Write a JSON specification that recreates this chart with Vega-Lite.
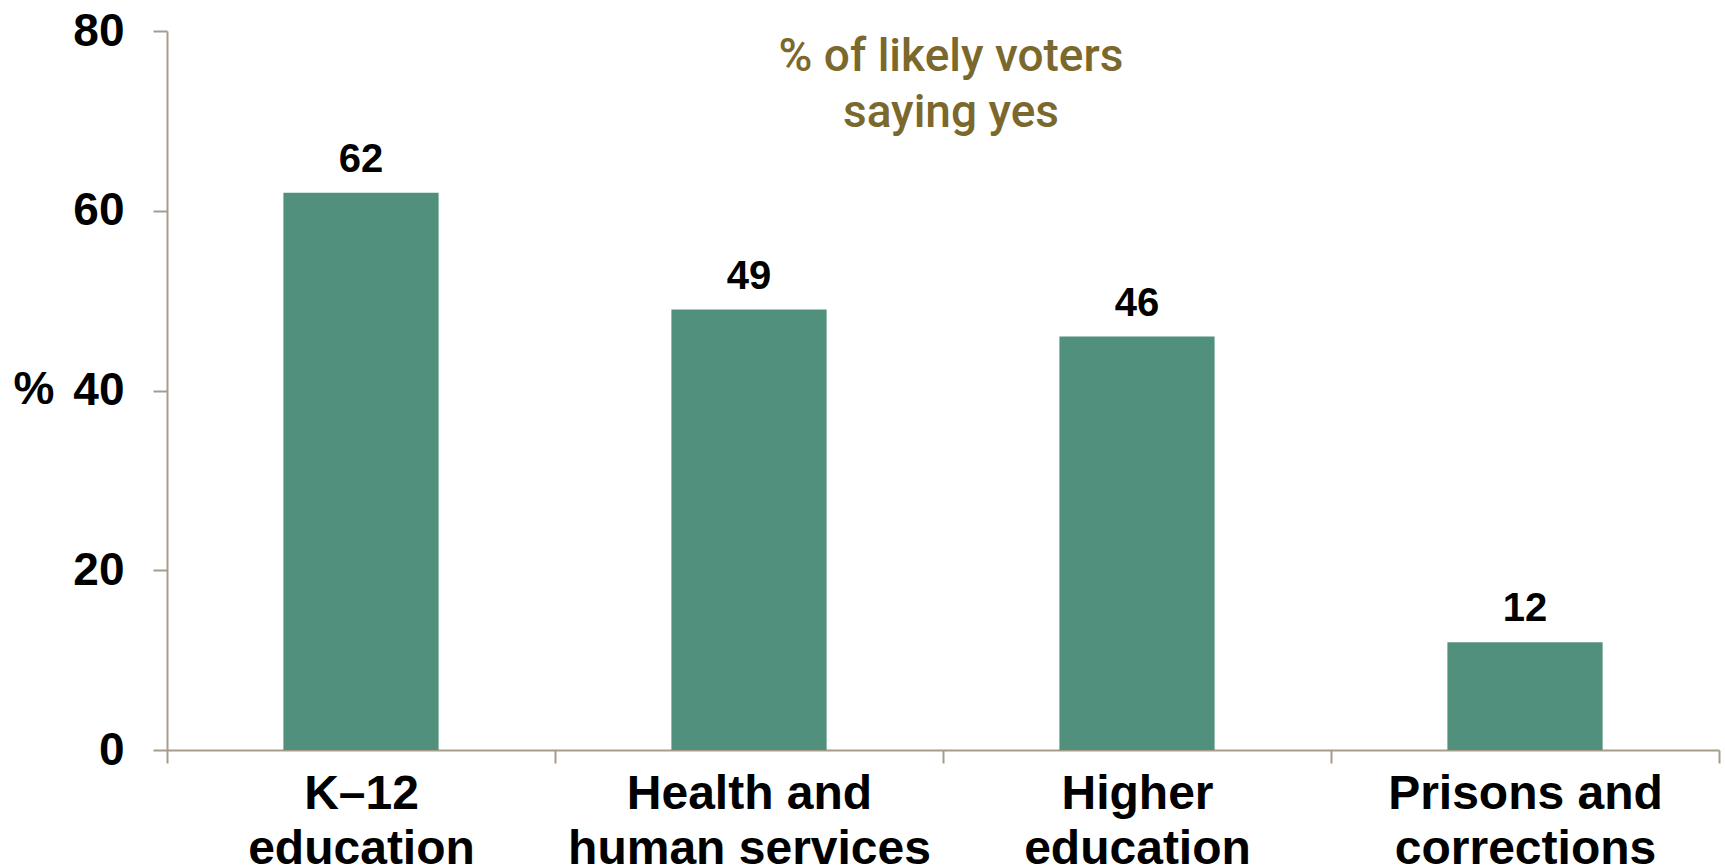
{
  "$schema": "https://vega.github.io/schema/vega-lite/v6.json",
  "width": 1552,
  "height": 719,
  "autosize": {"type": "none"},
  "padding": {"left": 167, "top": 31, "right": 6, "bottom": 118},
  "background": "white",
  "title": {
    "text": ["% of likely voters", "saying yes"],
    "orient": "top",
    "anchor": "middle",
    "frame": "group",
    "font": "Roboto",
    "fontWeight": 500,
    "fontSize": 46,
    "lineHeight": 56,
    "color": "#7a682c",
    "baseline": "top",
    "offset": 0,
    "dx": 8,
    "dy": 129
  },
  "data": {
    "values": [
      {"category": "K–12\neducation", "pct": 62},
      {"category": "Health and\nhuman services", "pct": 49},
      {"category": "Higher\neducation", "pct": 46},
      {"category": "Prisons and\ncorrections", "pct": 12}
    ]
  },
  "config": {
    "view": {"stroke": null},
    "font": "Liberation Sans"
  },
  "encoding": {
    "x": {
      "field": "category",
      "type": "nominal",
      "sort": null,
      "scale": {"paddingInner": 0, "paddingOuter": 0},
      "axis": {
        "title": null,
        "labelAngle": 0,
        "labelExpr": "split(datum.label, '\\n')",
        "labelFont": "Liberation Sans",
        "labelFontWeight": "bold",
        "labelFontSize": 48,
        "labelLineHeight": 55,
        "labelColor": "black",
        "labelPadding": 7,
        "labelBaseline": "top",
        "labelLimit": 0,
        "tickBand": "extent",
        "tickSize": 13,
        "tickColor": "#a59d8a",
        "tickWidth": 2,
        "domainColor": "#a59d8a",
        "domainWidth": 2,
        "grid": false
      }
    },
    "y": {
      "field": "pct",
      "type": "quantitative",
      "scale": {"domain": [0, 80]},
      "axis": {
        "title": "%",
        "titleAngle": 0,
        "titleFont": "Liberation Sans",
        "titleFontWeight": "bold",
        "titleFontSize": 46,
        "titleColor": "black",
        "titleAlign": "left",
        "titleBaseline": "middle",
        "titleX": -154,
        "titleY": 358,
        "values": [0, 20, 40, 60, 80],
        "labelFont": "Liberation Sans",
        "labelFontWeight": "bold",
        "labelFontSize": 46,
        "labelColor": "black",
        "labelPadding": 29,
        "tickSize": 14,
        "tickColor": "#a59d8a",
        "tickWidth": 2,
        "domainColor": "#a59d8a",
        "domainWidth": 2,
        "grid": false
      }
    }
  },
  "layer": [
    {"mark": {"type": "bar", "color": "#52907e", "width": {"band": 0.4}}},
    {
      "mark": {
        "type": "text",
        "font": "Liberation Sans",
        "fontWeight": "bold",
        "fontSize": 40,
        "color": "black",
        "baseline": "alphabetic",
        "dy": -21
      },
      "encoding": {"text": {"field": "pct", "type": "quantitative"}}
    }
  ]
}
